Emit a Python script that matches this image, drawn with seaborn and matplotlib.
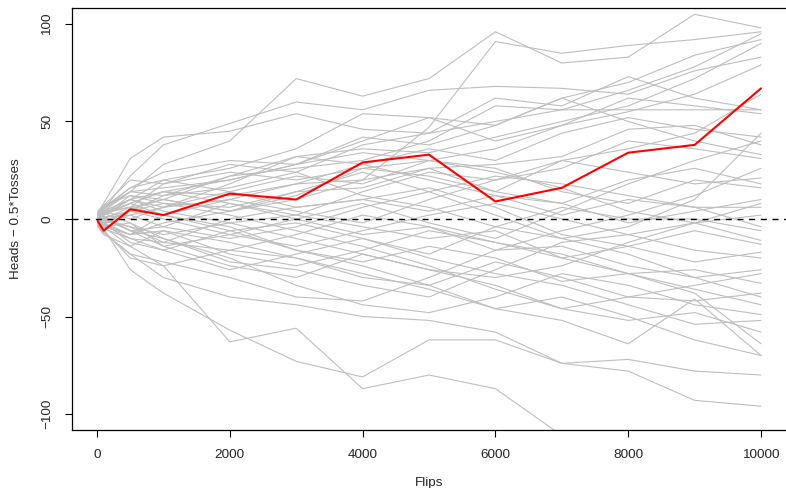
import numpy as np
import pandas as pd
import matplotlib
matplotlib.use("Agg")
import matplotlib.pyplot as plt
import seaborn as sns

flips = [10, 100, 500, 1000, 2000, 3000, 4000, 5000, 6000, 7000, 8000, 9000, 10000]

# Heads - 0.5*Tosses for each simulated run (gray)
runs = [
    [0, 4, 14, 28, 40, 72, 63, 72, 96, 80, 83, 105, 98],
    [1, 5, 22, 38, 49, 60, 56, 66, 68, 67, 64, 76, 83],
    [3, 8, 31, 42, 45, 54, 46, 44, 62, 58, 73, 62, 56],
    [-2, 2, 8, 14, 12, 18, 20, 47, 91, 85, 89, 92, 96],
    [1, -3, 5, 10, 22, 26, 30, 40, 58, 56, 66, 78, 95],
    [0, 6, 16, 24, 30, 28, 40, 52, 48, 62, 70, 84, 92],
    [-1, 1, 2, 6, 18, 32, 36, 34, 42, 50, 58, 72, 90],
    [2, 7, 20, 18, 24, 20, 26, 30, 36, 48, 55, 64, 79],
    [-3, -6, 4, 12, 16, 24, 38, 44, 50, 56, 56, 56, 56],
    [3, 4, 10, 20, 26, 36, 54, 52, 40, 48, 62, 58, 54],
    [-2, -4, -8, 2, 10, 18, 28, 36, 30, 44, 52, 46, 42],
    [0, 2, 12, 8, 6, 14, 16, 26, 28, 32, 46, 48, 38],
    [1, 5, 14, 16, 20, 28, 42, 38, 48, 62, 50, 40, 33],
    [-1, 0, -6, -4, 8, 2, 14, 24, 20, 26, 40, 36, 31],
    [2, 3, 6, 10, 4, 12, 26, 22, 14, 30, 24, 18, 21],
    [-3, -5, -10, -12, 0, 6, 10, 4, 12, 8, 20, 26, 18],
    [1, 4, 10, 6, 14, 22, 18, 30, 26, 14, 8, 20, 16],
    [0, -2, 2, -4, -10, -4, 6, 14, 22, 18, 12, 6, 6],
    [-2, 2, 8, 14, 20, 28, 34, 30, 24, 16, 4, -2, 2],
    [3, 6, 14, 12, 22, 32, 28, 20, 12, 2, 10, 6, -4],
    [-1, -2, -12, -16, -6, -2, -10, -18, -4, 6, 0, 0, -6],
    [0, 1, 4, 0, -8, -14, -6, 2, 8, 0, -8, -2, -11],
    [2, 5, 16, 20, 14, 6, 10, 16, 6, -8, -14, -6, -13],
    [-4, -8, -14, -6, -18, -24, -16, -6, -12, -20, -14, -22, -17],
    [1, -1, -4, -12, -16, -8, 2, -4, -16, -14, -24, -30, -26],
    [0, 3, 8, 2, -4, -16, -22, -14, -20, -32, -28, -26, -33],
    [-2, -6, -20, -24, -16, -20, -30, -34, -22, -30, -40, -42, -38],
    [3, 2, 10, 4, -2, 2, -4, -10, -6, -20, -28, -36, -44],
    [-1, 1, -6, -10, -20, -34, -44, -48, -40, -28, -34, -44, -49],
    [0, -4, -2, -14, -24, -30, -18, -26, -34, -46, -52, -48, -58],
    [1, -2, -8, -6, -12, -20, -28, -36, -46, -40, -50, -62, -70],
    [-3, -7, -18, -30, -40, -44, -50, -52, -58, -74, -72, -78, -80],
    [0, -5, -26, -38, -57, -73, -81, -62, -62, -74, -78, -93, -96],
    [-1, -4, -14, -24, -63, -56, -87, -80, -87, -111, -115, -121, -118],
    [2, 0, -4, -8, -2, -10, -18, -26, -30, -24, -12, -2, 8],
    [-2, -1, 4, 8, 2, -6, -14, -24, -36, -46, -40, -34, -28],
    [1, 3, -2, -10, -22, -26, -34, -40, -26, -12, -8, -16, -20],
    [0, -3, -10, -16, -26, -18, -10, -20, -28, -34, -44, -54, -52],
    [4, 7, 12, 10, 4, 10, 20, 26, 14, 8, -2, 4, 10],
    [-4, -7, -18, -22, -30, -40, -42, -30, -16, -6, 2, 12, 26],
    [1, 4, 6, 18, 28, 24, 12, 6, -4, -10, -18, -30, -40],
    [0, 2, 10, 14, 8, 0, -8, -4, -12, -18, -28, -38, -64],
    [-1, -3, -8, -2, 4, 14, 24, 14, 2, -10, -4, 10, 44],
    [2, 4, 0, 6, 10, 4, -2, 10, 20, 30, 36, 44, 64],
    [-2, 0, 6, 2, -6, -16, -24, -34, -46, -52, -64, -41, -70],
    [3, 1, -6, -14, -8, 0, 8, -2, -10, 4, 18, 30, 40],
]

highlight = [-1, -6, 5, 2, 13, 10, 29, 33, 9, 16, 34, 38, 67]

x_ticks = [0, 2000, 4000, 6000, 8000, 10000]
y_ticks = [-100, -50, 0, 50, 100]

rows = []
for i, r in enumerate(runs):
    for f, v in zip(flips, r):
        rows.append({"run": i, "Flips": f, "value": v})
df = pd.DataFrame(rows)
df_red = pd.DataFrame({"Flips": flips, "value": highlight})

sns.set_style("ticks")
plt.rcParams["font.family"] = ["Liberation Sans", "DejaVu Sans"]
plt.rcParams["font.size"] = 9.7

fig = plt.figure(figsize=(7.86, 4.88), dpi=100)
ax = fig.add_axes([72 / 786, 1 - 430 / 488, (787 - 72) / 786, (430 - 8) / 488])

sns.lineplot(data=df, x="Flips", y="value", units="run", estimator=None,
             color="#BEBEBE", linewidth=0.8, ax=ax, legend=False)
ax.axhline(0, color="black", linewidth=1.0, linestyle=(0, (4.3, 4.1)), zorder=3)
sns.lineplot(data=df_red, x="Flips", y="value", color="#FF0000",
             linewidth=1.5, ax=ax, legend=False, zorder=4)

ax.set_xlim(-376.5, 10391)
ax.set_ylim(-108.2, 108.2)
ax.set_xticks(x_ticks)
ax.set_yticks(y_ticks)
ax.tick_params(axis="both", direction="out", length=5, width=0.8, color="black",
               labelsize=9.7, pad=8.5)
for lab in ax.get_yticklabels():
    lab.set_rotation(90)
    lab.set_va("center")

for s in ax.spines.values():
    s.set_color("black")
    s.set_linewidth(0.9)
ax.spines["right"].set_visible(False)

ax.set_xlabel("Flips", fontsize=9.7, labelpad=12)
ax.set_ylabel("Heads \u2212 0.5*Tosses", fontsize=9.7, labelpad=14)

fig.savefig("out.png", dpi=100)
